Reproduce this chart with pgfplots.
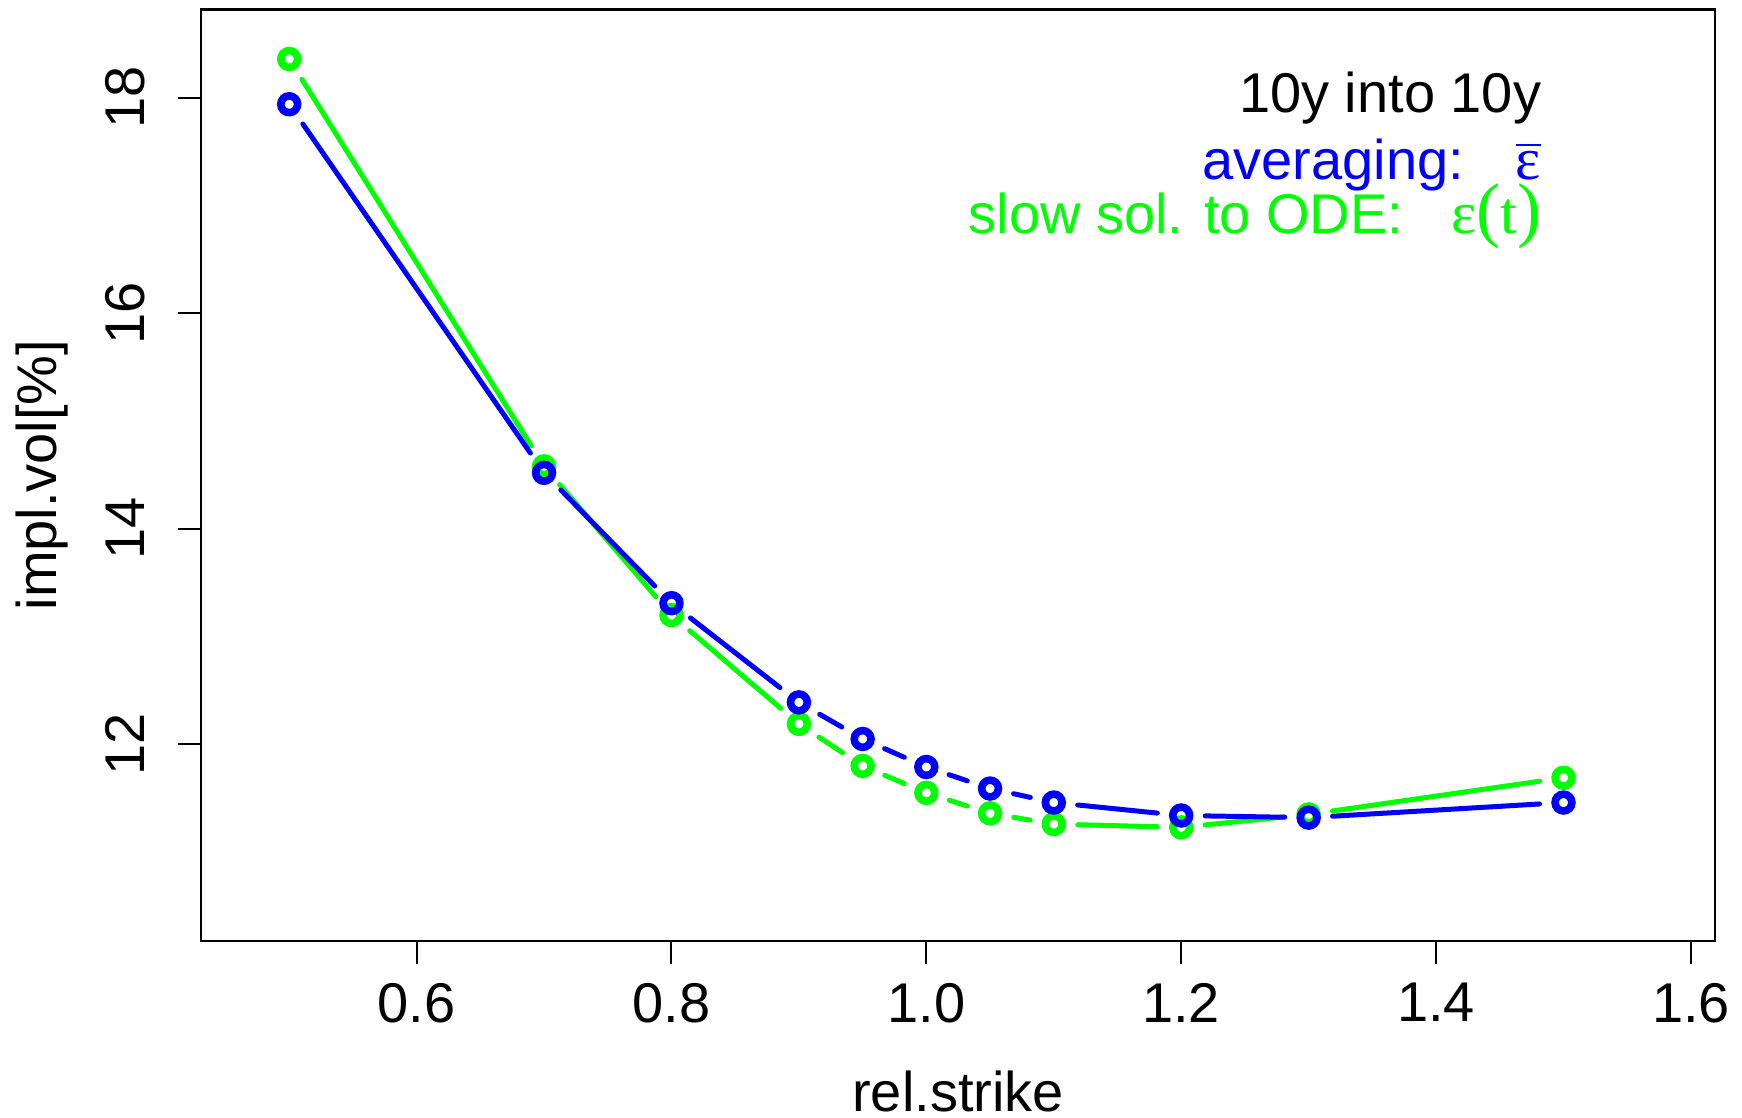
\documentclass[border=0pt]{standalone}
\usepackage{fontspec}
\setmainfont{Liberation Sans}
\newfontfamily\serif{Liberation Serif}
\usepackage{pgfplots}
\pgfplotsset{compat=1.18}
\usepackage{pgfplotstable}
\definecolor{rblue}{RGB}{0,0,255}
\definecolor{rgreen}{RGB}{0,255,0}

\pgfplotstableread{
x y
0.5 17.94
0.7 14.52
0.8 13.31
0.9 12.39
0.95 12.05
1.0 11.79
1.05 11.59
1.1 11.46
1.2 11.34
1.3 11.32
1.5 11.46
}\bluepts
\pgfplotstableread{
x y
0.5 18.36
0.7 14.58
0.8 13.20
0.9 12.19
0.95 11.80
1.0 11.55
1.05 11.36
1.1 11.26
1.2 11.23
1.3 11.35
1.5 11.69
}\greenpts
\pgfplotstableread{
x y xn yn
0.5 17.94 0.7 14.52
0.7 14.52 0.8 13.31
0.8 13.31 0.9 12.39
0.9 12.39 0.95 12.05
0.95 12.05 1.0 11.79
1.0 11.79 1.05 11.59
1.05 11.59 1.1 11.46
1.1 11.46 1.2 11.34
1.2 11.34 1.3 11.32
1.3 11.32 1.5 11.46
}\blueseg
\pgfplotstableread{
x y xn yn
0.5 18.36 0.7 14.58
0.7 14.58 0.8 13.20
0.8 13.20 0.9 12.19
0.9 12.19 0.95 11.80
0.95 11.80 1.0 11.55
1.0 11.55 1.05 11.36
1.05 11.36 1.1 11.26
1.1 11.26 1.2 11.23
1.2 11.23 1.3 11.35
1.3 11.35 1.5 11.69
}\greenseg

\begin{document}
\begin{tikzpicture}
\begin{axis}[
  at={(0,0)}, anchor=south west,
  scale only axis,
  width=378.5pt, height=232.85pt,
  xmin=0.4308, xmax=1.6189,
  ymin=10.178, ymax=18.821,
  axis line style={line width=0.6pt},
  tick style={line width=0.5pt, black},
  tick align=outside,
  major tick length=5.75pt,
  xtick pos=left, ytick pos=left,
  xtick={0.6,0.8,1.0,1.2,1.4,1.6},
  ytick={12,14,16,18},
  /pgf/number format/assume math mode=true,
  xticklabel style={/pgf/number format/fixed, /pgf/number format/fixed zerofill, /pgf/number format/precision=1},
  x tick label style={font=\fontsize{14}{16}\selectfont, anchor=center, yshift=-9.75pt},
  y tick label style={font=\fontsize{14}{16}\selectfont, xshift=-13.15pt, rotate=90, anchor=center},
  xlabel={rel.strike},
  ylabel={impl.vol[\%]},
  xlabel style={font=\fontsize{14}{16}\selectfont, at={(axis description cs:0.5,-0.1836)}, anchor=base},
  ylabel style={font=\fontsize{14}{16}\selectfont, at={(axis description cs:-0.1051,0.5)}, anchor=center, rotate=0},
  clip=false,
]
\addplot[rgreen, line width=1.25pt, line cap=round,
  quiver={u=\thisrow{xn}-\thisrow{x}, v=\thisrow{yn}-\thisrow{y},
    every arrow/.append style={shorten <=6pt, shorten >=6pt}}] table {\greenseg};
\addplot[rgreen, only marks, mark=o, mark size=2.1pt, mark options={line width=1.9pt}] table {\greenpts};
\addplot[rblue, line width=1.25pt, line cap=round,
  quiver={u=\thisrow{xn}-\thisrow{x}, v=\thisrow{yn}-\thisrow{y},
    every arrow/.append style={shorten <=6pt, shorten >=6pt}}] table {\blueseg};
\addplot[rblue, only marks, mark=o, mark size=2.1pt, mark options={line width=1.9pt}] table {\bluepts};

\node[anchor=base east, inner sep=0pt, font=\fontsize{14}{16}\selectfont] at (axis description cs:0.8857,0.8887) {10y into 10y};
\node[anchor=base east, inner sep=0pt, font=\fontsize{14}{16}\selectfont, text=rblue] at (axis description cs:0.8857,0.8178) {averaging:\hspace{13pt}$\overline{\hbox{\serif\fontsize{15}{16}\selectfont ε}}$};
\node[anchor=base east, inner sep=0pt, font=\fontsize{14}{16}\selectfont, text=rgreen] at (axis description cs:0.8857,0.7598) {slow sol. to ODE:\hspace{12pt}{\serif\fontsize{15}{16}\selectfont ε{\fontsize{18}{18}\selectfont(}t{\fontsize{18}{18}\selectfont)}}};
\end{axis}
\pgfresetboundingbox
\path (-50.25pt,-44.075pt) rectangle (385.25pt,235.175pt);
\end{tikzpicture}
\end{document}
